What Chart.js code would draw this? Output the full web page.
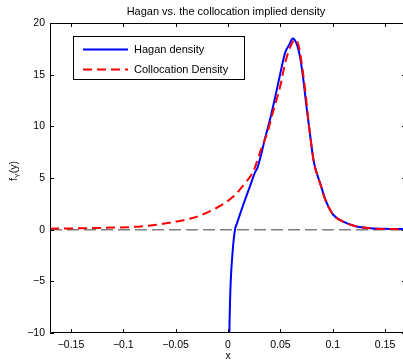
<!DOCTYPE html>
<html><head><meta charset="utf-8">
<script src="https://cdn.jsdelivr.net/npm/chart.js@4"></script>
<style>html,body{margin:0;padding:0;background:#fff;overflow:hidden}#wrap{width:412px;height:362px;position:relative}</style>
</head><body><div id="wrap"><canvas id="c"></canvas></div>
<script>
const chartTitle = 'Hagan vs. the collocation implied density';
const xLabel = 'x';
const seriesNames = ['Hagan density', 'Collocation Density'];
const haganX = [0.0013, 0.0018, 0.0026, 0.0045, 0.0067, 0.0085, 0.0105, 0.0135, 0.0163, 0.021, 0.026, 0.028, 0.032, 0.035, 0.040, 0.045, 0.0497, 0.0525, 0.0548, 0.0585, 0.0618, 0.0655, 0.0688, 0.072, 0.0746, 0.0778, 0.0816, 0.085, 0.088, 0.092, 0.096, 0.1007, 0.110, 0.121, 0.136, 0.155, 0.17];
const haganY = [-10, -7.5, -5, -2, 0, 0.6, 1.2, 2.1, 2.9, 4.2, 5.6, 5.95, 7.4, 8.7, 10.6, 12.8, 15.0, 16.3, 17.2, 17.9, 18.5, 18.0, 16.7, 14.5, 12.2, 9.65, 6.75, 5.4, 4.5, 3.2, 2.2, 1.42, 0.77, 0.36, 0.13, 0.07, 0.05];
const collocX = [-0.17, -0.15, -0.13, -0.11, -0.097, -0.08, -0.065, -0.05, -0.033, -0.02, -0.0076, 0.005, 0.0163, 0.024, 0.032, 0.037, 0.043, 0.0497, 0.055, 0.06, 0.064, 0.0675, 0.0705, 0.0735, 0.076, 0.079, 0.0825, 0.0855, 0.0885, 0.0925, 0.0965, 0.1007, 0.110, 0.121, 0.136, 0.155, 0.17];
const collocY = [0.1, 0.12, 0.15, 0.2, 0.23, 0.35, 0.52, 0.78, 1.15, 1.65, 2.3, 3.2, 4.5, 5.6, 7.9, 9.2, 11.4, 13.8, 16.3, 17.8, 18.4, 17.8, 16.0, 13.7, 11.3, 8.7, 6.3, 5.2, 4.3, 3.0, 2.1, 1.4, 0.77, 0.36, 0.13, 0.06, 0.03];
const zeroX = [-0.17, 0.17];
const zeroY = [0, 0];
const xTicks = [-0.15, -0.1, -0.05, 0, 0.05, 0.1, 0.15];
const yTicks = [-10, -5, 0, 5, 10, 15, 20];
const xRange = [-0.17, 0.17];
const yRange = [-10, 20];

const FONT = '"Liberation Sans", Arial, Helvetica, sans-serif';
const pts = (xs, ys) => xs.map((x, i) => ({x: x, y: ys[i]}));
const fmt = v => (v < 0 ? '\u2212' + String(-v) : String(v));

const decor = {
  id: 'decor',
  afterDraw(chart) {
    const ctx = chart.ctx, a = chart.chartArea;
    const xs = chart.scales.x, ys = chart.scales.y;
    ctx.save();
    ctx.strokeStyle = '#000';
    ctx.lineWidth = 1;
    ctx.beginPath();
    ctx.rect(a.left + 0.5, a.top + 0.5, a.right - a.left - 1, a.bottom - a.top - 1);
    ctx.stroke();
    ctx.beginPath();
    const tl = 4;
    xTicks.forEach(v => {
      const px = Math.round(xs.getPixelForValue(v)) + 0.5;
      ctx.moveTo(px, a.bottom); ctx.lineTo(px, a.bottom - tl);
      ctx.moveTo(px, a.top); ctx.lineTo(px, a.top + tl);
    });
    yTicks.forEach(v => {
      const py = Math.round(ys.getPixelForValue(v)) + 0.5;
      ctx.moveTo(a.left, py); ctx.lineTo(a.left + tl, py);
      ctx.moveTo(a.right, py); ctx.lineTo(a.right - tl, py);
    });
    ctx.stroke();
    // title
    ctx.fillStyle = '#000';
    ctx.font = '11px ' + FONT;
    ctx.textAlign = 'center';
    ctx.textBaseline = 'middle';
    ctx.fillText(chartTitle, 226, 12);
    // y label f_Y(y)
    ctx.save();
    ctx.translate(13, 171);
    ctx.rotate(-Math.PI / 2);
    ctx.textAlign = 'left';
    ctx.textBaseline = 'alphabetic';
    const big = '10.5px ' + FONT, small = '7.5px ' + FONT;
    ctx.font = big; const w1 = ctx.measureText('f').width; const w3 = ctx.measureText('(y)').width;
    ctx.font = small; const w2 = ctx.measureText('Y').width;
    let x0 = -(w1 + w2 + w3) / 2;
    ctx.font = big; ctx.fillText('f', x0, 4);
    ctx.font = small; ctx.fillText('Y', x0 + w1, 7);
    ctx.font = big; ctx.fillText('(y)', x0 + w1 + w2, 4);
    ctx.restore();
    // legend
    ctx.fillStyle = '#fff';
    ctx.fillRect(73.5, 36.5, 171, 43);
    ctx.strokeStyle = '#000';
    ctx.lineWidth = 1;
    ctx.strokeRect(73.5, 36.5, 171, 43);
    const rows = [49.5, 69.5];
    [0, 1].forEach(i => {
      const ds = chart.data.datasets[i];
      ctx.strokeStyle = ds.borderColor;
      ctx.lineWidth = ds.borderWidth;
      ctx.setLineDash(ds.borderDash || []);
      ctx.beginPath();
      ctx.moveTo(83, rows[i]); ctx.lineTo(128, rows[i]);
      ctx.stroke();
      ctx.setLineDash([]);
      ctx.fillStyle = '#000';
      ctx.font = '11px ' + FONT;
      ctx.textAlign = 'left';
      ctx.textBaseline = 'middle';
      ctx.fillText(ds.label, 134, rows[i]);
    });
    ctx.restore();
  }
};

new Chart(document.getElementById('c'), {
  type: 'scatter',
  data: {
    datasets: [
      {label: seriesNames[0], data: pts(haganX, haganY), showLine: true, borderColor: '#0000ff', borderWidth: 2, pointRadius: 0, cubicInterpolationMode: 'monotone', order: 2},
      {label: seriesNames[1], data: pts(collocX, collocY), showLine: true, borderColor: '#ff0000', borderWidth: 2, borderDash: [9, 5], pointRadius: 0, cubicInterpolationMode: 'monotone', order: 1},
      {label: 'zero', data: pts(zeroX, zeroY), showLine: true, borderColor: '#7f7f7f', borderWidth: 1.5, borderDash: [12, 5], pointRadius: 0, order: 3}
    ]
  },
  options: {
    responsive: true,
    maintainAspectRatio: false,
    animation: false,
    devicePixelRatio: 1,
    layout: {padding: {top: 23, right: 6, left: 0, bottom: 0}},
    plugins: {legend: {display: false}, title: {display: false}, tooltip: {enabled: false}},
    scales: {
      x: {
        type: 'linear', min: xRange[0], max: xRange[1],
        afterBuildTicks: s => { s.ticks = xTicks.map(v => ({value: v})); },
        afterFit: s => { s.height = 29; },
        grid: {display: false, drawTicks: false},
        border: {display: false},
        ticks: {padding: 6, color: '#000', font: {family: FONT, size: 10.5}, callback: v => fmt(v), maxRotation: 0, autoSkip: false},
        title: {display: true, text: xLabel, color: '#000', font: {family: FONT, size: 10.5}, padding: 0}
      },
      y: {
        type: 'linear', min: yRange[0], max: yRange[1],
        afterBuildTicks: s => { s.ticks = yTicks.map(v => ({value: v})); },
        afterFit: s => { s.width = 50; },
        grid: {display: false, drawTicks: false},
        border: {display: false},
        ticks: {padding: 5, color: '#000', font: {family: FONT, size: 10.5}, callback: v => fmt(v), autoSkip: false}
      }
    }
  },
  plugins: [decor]
});
</script>
</body></html>
